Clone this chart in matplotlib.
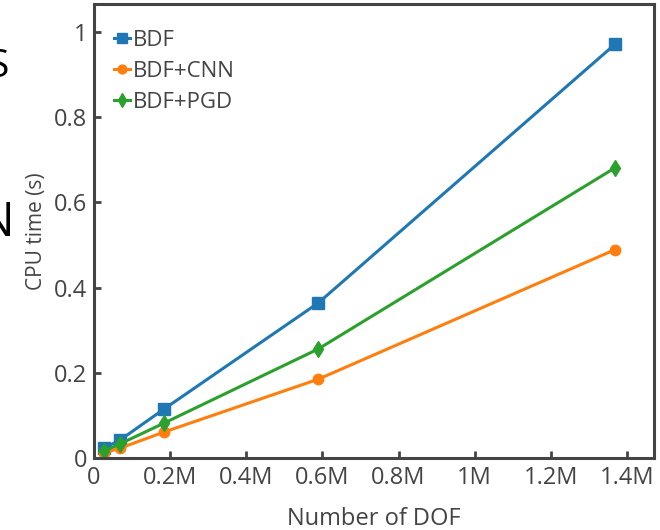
import matplotlib
matplotlib.use("Agg")
import matplotlib.pyplot as plt
from matplotlib.ticker import FuncFormatter

plt.rcParams['font.family'] = ['Open Sans', 'DejaVu Sans']

# data (DOF in millions, CPU time in s)
dof = [0.026, 0.068, 0.184, 0.589, 1.368]
t_bdf = [0.023, 0.042, 0.115, 0.364, 0.971]
t_cnn = [0.012, 0.023, 0.061, 0.185, 0.489]
t_pgd = [0.016, 0.033, 0.082, 0.256, 0.681]
x_ticks = [0, 0.2, 0.4, 0.6, 0.8, 1.0, 1.2, 1.4]
y_ticks = [0, 0.2, 0.4, 0.6, 0.8, 1.0]

grey = '#444444'

fig = plt.figure(figsize=(6.6, 5.3), dpi=100)
ax = fig.add_axes([0.1424, 0.1358, 0.8485, 0.8567])

ax.plot(dof, t_bdf, color='#1f77b4', lw=2.2, marker='s', ms=8.5, label='BDF')
ax.plot(dof, t_cnn, color='#ff7f0e', lw=2.2, marker='o', ms=7.5, label='BDF+CNN')
ax.plot(dof, t_pgd, color='#2ca02c', lw=2.2, marker='d', ms=8.5, label='BDF+PGD')

ax.set_xlim(0, 1.471)
ax.set_ylim(0, 1.066)
ax.set_xticks(x_ticks)
ax.set_yticks(y_ticks)


def fmt_m(v, pos):
    if v == 0:
        return '0'
    return f'{v:g}M'


ax.xaxis.set_major_formatter(FuncFormatter(fmt_m))
ax.yaxis.set_major_formatter(FuncFormatter(lambda v, p: f'{v:g}'))

ax.tick_params(direction='in', length=5, width=2, colors=grey,
               labelsize=17, labelcolor=grey)
ax.tick_params(axis='x', pad=6)
ax.tick_params(axis='y', pad=5)
for s in ax.spines.values():
    s.set_color(grey)
    s.set_linewidth(2.2)

ax.set_xlabel('Number of DOF', fontsize=17, color=grey, labelpad=12)
ax.set_ylabel('CPU time (s)', fontsize=15, color=grey, labelpad=5)

leg = ax.legend(loc='upper left', bbox_to_anchor=(0, 0.987), frameon=False,
                fontsize=16, handlelength=0.7, handletextpad=0.15,
                labelspacing=0.45, borderaxespad=0.5, markerscale=0.85,
                labelcolor=grey)

# fragments of neighbouring panels cut off at the left edge
fig.text(-0.018, 0.855, 'S', fontsize=28, color='black')
fig.text(-0.033, 0.555, 'N', fontsize=34, color='black')

fig.savefig('out.png', dpi=100)
